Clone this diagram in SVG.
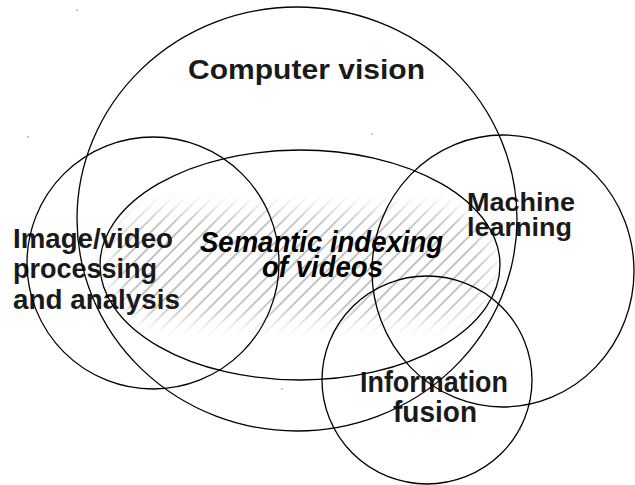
<svg xmlns="http://www.w3.org/2000/svg" width="635" height="485" viewBox="0 0 635 485">
<style>
.ring{fill:none;stroke:#000;stroke-width:1.3}
.lbl{font-family:"Liberation Sans",Arial,sans-serif;font-weight:bold;fill:#1a1a1a}
.it{font-style:italic;fill:#000}
.dot{fill:#888}
</style>
<defs>
<pattern id="hatch" patternUnits="userSpaceOnUse" width="9.5" height="9.5" patternTransform="rotate(-45)">
<line x1="0" y1="4.75" x2="9.5" y2="4.75" stroke="#6a6a6a" stroke-width="0.8"/>
</pattern>
<filter id="soft" x="-20%" y="-40%" width="140%" height="180%">
<feGaussianBlur stdDeviation="10"/>
</filter>
<mask id="fade" maskUnits="userSpaceOnUse" x="0" y="0" width="635" height="485">
<rect x="112" y="210" width="378" height="110" rx="50" fill="#fff" filter="url(#soft)"/>
</mask>
</defs>
<rect id="hatch-area" x="90" y="190" width="420" height="150" fill="url(#hatch)" mask="url(#fade)"/>
<g id="labels">
<text class="lbl" font-size="27" x="188" y="79" textLength="237" lengthAdjust="spacingAndGlyphs">Computer vision</text>
<text class="lbl" font-size="28" x="13" y="248" textLength="160" lengthAdjust="spacingAndGlyphs">Image/video</text>
<text class="lbl" font-size="28" x="13" y="278" textLength="144" lengthAdjust="spacingAndGlyphs">processing</text>
<text class="lbl" font-size="28" x="13" y="309" textLength="167" lengthAdjust="spacingAndGlyphs">and analysis</text>
<text class="lbl it" font-size="29" x="200" y="252" textLength="243" lengthAdjust="spacingAndGlyphs">Semantic indexing</text>
<text class="lbl it" font-size="29" x="262" y="277" textLength="121" lengthAdjust="spacingAndGlyphs">of videos</text>
<text class="lbl" font-size="26" x="467" y="211" textLength="108" lengthAdjust="spacingAndGlyphs">Machine</text>
<text class="lbl" font-size="26" x="467" y="236" textLength="105" lengthAdjust="spacingAndGlyphs">learning</text>
<text class="lbl" font-size="29" x="360" y="391.5" textLength="148" lengthAdjust="spacingAndGlyphs">Information</text>
<text class="lbl" font-size="29" x="393" y="421.5" textLength="84" lengthAdjust="spacingAndGlyphs">fusion</text>
</g>
<g id="computer-vision"><ellipse class="ring" cx="297" cy="219" rx="220" ry="212"/></g>
<g id="image-video"><ellipse class="ring" cx="153" cy="263" rx="126" ry="126"/></g>
<g id="semantic-indexing"><ellipse class="ring" cx="300" cy="265" rx="200" ry="115"/></g>
<g id="machine-learning"><ellipse class="ring" cx="503" cy="271" rx="131" ry="136"/></g>
<g id="information-fusion"><ellipse class="ring" cx="427" cy="380" rx="105" ry="104"/></g>
<g id="specks">
<circle class="dot" cx="77" cy="10" r="0.8"/>
<circle class="dot" cx="28" cy="137" r="0.8"/>
<circle class="dot" cx="372" cy="134" r="0.8"/>
<circle class="dot" cx="282" cy="389" r="0.8"/>
<circle class="dot" cx="520" cy="430" r="0.8"/>
</g>
</svg>
